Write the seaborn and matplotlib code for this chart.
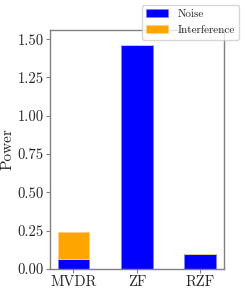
import matplotlib
matplotlib.use("Agg")
import matplotlib.pyplot as plt
import seaborn as sns
import pandas as pd

methods = ["MVDR", "ZF", "RZF"]
noise = [0.065, 1.46, 0.098]
interference = [0.178, 0.0, 0.0]

sns.set_style("white")
plt.rcParams["font.family"] = ["cmr10", "DejaVu Serif"]
plt.rcParams["mathtext.fontset"] = "cm"
plt.rcParams["axes.formatter.use_mathtext"] = True

df = pd.DataFrame({"method": methods, "noise": noise, "interference": interference})

fig = plt.figure(figsize=(2.49, 2.99), dpi=100)
ax = fig.add_axes([49.7/249, 1-269/299, (224-49.7)/249, (269-30)/299])

sns.barplot(data=df, x="method", y="noise", color="blue", width=0.5, ax=ax,
            label="Noise", saturation=1, edgecolor="#8080ff", linewidth=0.6)
sns.barplot(data=df, x="method", y="interference", color="orange", width=0.5, ax=ax,
            bottom=df["noise"], label="Interference", saturation=1,
            edgecolor="#ffd080", linewidth=0.6)

ax.set_xlim(-0.375, 2.375)
ax.set_ylim(0, 1.56)
ax.set_yticks([0, 0.25, 0.5, 0.75, 1.0, 1.25, 1.5])
ax.set_yticklabels(["0.00", "0.25", "0.50", "0.75", "1.00", "1.25", "1.50"])
ax.set_xlabel("")
ax.set_ylabel("Power", fontsize=11)
ax.yaxis.set_label_coords(-0.2, 0.5)
ax.tick_params(axis="both", labelsize=10.5, length=3, color="gray", left=True, bottom=True, pad=1.5)
for s in ax.spines.values():
    s.set_color("gray")
    s.set_linewidth(1)

leg = ax.legend(loc="upper right", bbox_to_anchor=(239/249, 1-5/299),
                bbox_transform=fig.transFigure, borderaxespad=0, fontsize=8,
                frameon=True, fancybox=True, labelspacing=0.55)
leg.get_frame().set_edgecolor("#cccccc")

fig.savefig("out.png", dpi=100)
